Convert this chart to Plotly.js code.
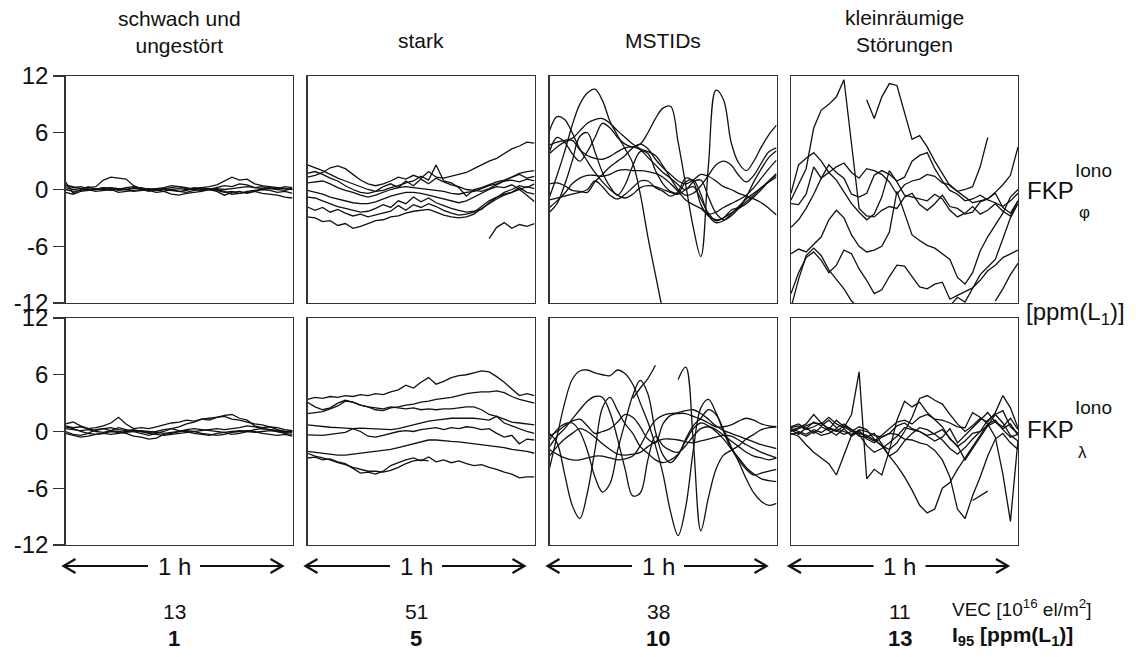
<!DOCTYPE html>
<html>
<head>
<meta charset="utf-8">
<script src="https://cdn.plot.ly/plotly-3.0.1.min.js"></script>
<style>html,body{margin:0;padding:0;background:#fff}#chart{width:1136px;height:657px}</style>
</head>
<body>
<div id="chart"></div>
<script>
// ---------------- DATA ----------------
const minutes = [0,2,4,6,8,10,12,14,16,18,20,22,24,26,28,30,32,34,36,38,40,42,44,46,48,50,52,54,56,58,60];
const columnTitles = ["schwach und<br>ungestört", "stark", "MSTIDs", "kleinräumige<br>Störungen"];
const vecValues = ["13", "51", "38", "11"];
const i95Values = ["1", "5", "10", "13"];
const yTickVals = [-12, -6, 0, 6, 12];
const yTickText = ["-12", "-6", "0", "6", "12"];

// schwach und ungestört, FKP phi
const weakPhi = [
  [0.5,0.3,0.1,0.2,0.3,1.0,1.3,1.2,1.1,0.4,0.1,0.0,-0.1,0.1,0.2,0.3,0.1,0.0,0.2,0.3,0.5,0.9,1.3,1.0,1.1,0.6,0.4,0.3,0.2,0.1,0.0],
  [0.8,-0.4,0.0,0.3,0.0,0.2,0.1,0.0,0.2,0.3,0.0,-0.2,0.1,0.2,0.4,0.3,0.2,0.0,-0.1,0.0,0.2,0.4,0.3,0.6,0.5,0.2,0.3,0.1,0.0,-0.1,0.1],
  [0.0,-0.2,-0.1,0.0,-0.2,-0.1,0.0,-0.3,-0.2,-0.1,0.0,0.1,0.0,-0.2,-0.5,-0.6,-0.4,-0.3,-0.2,0.0,-0.1,-0.3,-0.2,-0.4,-0.3,-0.2,-0.4,-0.5,-0.6,-0.8,-0.9],
  [-0.3,-0.5,-0.2,-0.1,0.0,0.1,0.2,0.1,0.0,0.1,0.2,0.0,0.1,0.0,-0.1,-0.2,-0.3,-0.1,0.0,0.1,0.0,-0.2,-0.5,-0.4,-0.2,-0.1,0.0,0.1,0.2,0.1,0.0],
  [0.2,0.0,0.1,-0.1,0.1,0.0,-0.1,0.1,0.0,-0.2,-0.1,0.0,-0.1,0.1,0.0,0.1,0.0,0.2,0.1,0.0,0.1,0.0,0.1,0.2,0.3,0.2,0.1,0.2,0.1,0.3,0.2],
  [0.4,0.2,0.3,0.1,0.0,0.2,0.1,-0.1,0.0,0.2,0.1,-0.1,-0.3,-0.2,0.0,-0.2,-0.1,0.1,0.2,0.0,-0.2,-0.6,-0.3,-0.2,-0.4,-0.2,0.0,-0.1,-0.3,-0.2,-0.4]
];
// schwach und ungestört, FKP lambda
const weakLambda = [
  [0.8,1.0,0.6,0.3,0.4,0.6,0.9,1.5,0.8,0.3,0.4,0.3,0.5,0.7,0.9,1.0,1.2,1.1,1.3,1.4,1.5,1.6,1.3,1.2,1.0,0.8,0.7,0.5,0.4,0.2,0.1],
  [0.5,0.3,0.0,-0.2,0.2,0.3,0.1,0.4,0.2,0.0,-0.2,-0.4,-0.2,0.0,0.3,0.5,0.8,1.0,1.3,1.2,1.5,1.7,1.8,1.4,1.2,0.6,0.4,0.5,0.2,0.0,-0.1],
  [0.0,-0.3,-0.4,-0.2,-0.3,-0.2,0.0,-0.1,-0.2,-0.5,-0.6,-0.8,-0.7,-0.3,-0.2,0.0,0.1,0.0,-0.2,-0.3,-0.4,-0.3,-0.1,0.0,0.1,0.0,-0.2,-0.3,-0.4,-0.3,-0.5],
  [-0.2,-0.4,-0.6,-0.5,-0.3,-0.2,-0.3,-0.2,0.0,0.1,0.0,-0.2,-0.3,-0.4,-0.3,-0.2,-0.1,0.0,0.1,0.2,0.3,0.2,0.3,0.4,0.6,0.5,0.3,0.2,0.1,0.0,0.1],
  [0.3,0.2,0.1,0.2,0.0,-0.1,0.1,0.0,-0.1,0.0,0.1,0.0,-0.1,-0.2,-0.1,0.0,0.2,0.3,0.2,0.1,0.0,-0.1,0.0,0.1,0.0,-0.1,0.0,0.1,0.0,-0.1,0.0],
  [0.6,0.4,0.5,0.3,0.1,0.3,0.4,0.2,0.1,0.2,0.0,-0.1,0.0,0.2,0.3,0.1,0.0,-0.2,-0.3,-0.4,-0.2,-0.1,-0.3,-0.2,0.0,0.2,0.3,0.2,0.0,-0.2,-0.3]
];
// stark, FKP phi
const strongPhi = [
  [1.3,1.5,1.8,2.3,2.5,2.2,1.6,1.0,0.6,0.4,0.6,0.9,1.3,1.1,1.5,1.2,1.9,1.3,1.2,1.4,1.6,1.8,2.2,2.6,3.0,3.3,3.8,4.3,4.6,5.0,4.9],
  [2.6,2.3,2.0,1.6,1.2,0.9,0.6,0.3,0.0,-0.2,-0.1,0.2,0.4,0.7,0.9,1.4,1.0,2.6,0.9,0.7,0.2,-0.7,0.0,0.2,0.5,0.8,1.0,1.3,1.7,1.9,2.0],
  [1.7,1.9,1.6,1.2,0.9,0.4,0.0,-0.3,-0.4,-0.2,0.3,0.6,0.2,0.9,0.4,1.1,0.6,1.2,0.8,0.5,0.3,0.0,-0.1,-0.2,0.1,0.5,0.9,1.3,1.6,1.2,1.4],
  [0.7,0.8,0.9,0.6,0.2,-0.1,-0.3,-0.6,-0.8,-0.6,-0.3,0.0,0.2,0.3,0.2,0.1,0.0,-0.1,-0.2,-0.4,-0.5,-0.3,-0.2,0.1,0.4,0.6,0.9,1.0,0.8,1.1,0.9],
  [-0.1,-0.3,-0.5,-0.8,-1.0,-1.2,-1.4,-1.5,-1.5,-1.3,-1.0,-0.7,-0.5,-0.3,-0.3,-0.4,-0.6,-0.8,-1.0,-1.2,-1.4,-1.2,-0.8,-0.4,0.0,0.3,0.2,0.5,0.0,-0.6,-1.3],
  [-0.8,-0.9,-1.2,-1.5,-1.8,-2.0,-2.2,-2.4,-2.3,-2.0,-1.6,-1.9,-1.2,-1.5,-0.8,-1.3,-0.9,-1.4,-1.7,-2.0,-2.2,-2.4,-2.3,-2.1,-1.4,-0.8,-0.3,0.0,0.4,0.2,0.6],
  [-1.85,-2.2,-1.9,-2.4,-2.1,-2.5,-2.8,-2.6,-2.9,-2.7,-2.5,-2.3,-1.7,-2.2,-1.6,-1.9,-1.5,-1.8,-2.2,-2.5,-2.7,-2.6,-2.4,-1.8,-1.2,-0.8,-0.5,-0.3,0.2,-0.3,-0.5],
  [-2.9,-3.0,-3.4,-3.3,-3.8,-3.6,-4.1,-3.9,-3.6,-3.3,-3.2,-2.9,-2.8,-2.5,-2.3,-2.2,-2.1,-2.4,-2.7,-2.9,-3.0,-2.9,-2.6,-2.0,-1.5,-1.0,-0.6,-0.3,0.0,0.3,0.1],
  [null,null,null,null,null,null,null,null,null,null,null,null,null,null,null,null,null,null,null,null,null,null,null,null,-5.2,-4.0,-3.5,-4.1,-3.7,-3.9,-3.6]
];
// stark, FKP lambda
const strongLambda = [
  [3.4,3.6,3.5,3.7,3.6,3.8,3.7,3.9,3.8,4.0,3.9,4.2,4.4,4.9,4.6,5.2,5.7,5.0,5.3,5.7,5.9,6.0,6.2,6.4,6.3,5.8,5.2,4.5,3.8,4.0,3.8],
  [3.1,2.6,2.3,2.5,3.0,3.3,3.1,2.8,2.6,2.3,2.2,2.5,2.6,2.8,2.9,3.1,3.2,3.4,3.5,3.6,3.8,4.0,4.1,4.2,4.2,4.3,4.1,3.7,3.4,3.2,3.0],
  [1.9,2.0,2.1,2.4,2.7,3.2,3.1,2.8,2.6,2.5,2.4,2.6,2.5,2.4,2.5,2.3,2.4,2.3,2.4,2.4,2.5,2.6,2.6,2.3,1.8,1.6,1.3,1.0,0.9,0.8,0.7],
  [0.7,0.6,0.5,0.45,0.4,0.35,0.3,0.35,0.3,0.25,0.2,0.2,0.3,0.5,0.7,0.9,1.1,1.2,1.3,1.4,1.4,1.4,1.4,1.3,1.2,1.6,0.9,0.6,0.3,0.0,-0.2],
  [-0.35,-0.35,-0.4,-0.3,-0.2,-0.1,0.3,0.0,-0.5,-0.6,-0.4,-0.2,0.0,0.1,0.0,0.2,0.3,0.4,0.2,0.4,0.3,0.5,0.4,0.2,0.3,-0.2,-0.6,-0.4,-1.3,-0.8,-0.9],
  [-2.1,-2.2,-2.3,-2.4,-2.5,-2.5,-2.4,-2.3,-2.2,-2.1,-2.0,-1.9,-1.7,-1.5,-1.3,-1.1,-0.9,-0.9,-1.0,-1.05,-1.1,-1.2,-1.3,-1.4,-1.5,-1.6,-1.7,-1.9,-2.0,-2.1,-2.3],
  [-2.8,-2.7,-3.0,-2.9,-3.2,-3.4,-3.9,-4.4,-4.3,-4.5,-4.2,-3.6,-3.3,-3.0,-2.8,-3.1,-2.7,-3.2,-3.0,-3.3,-3.1,-3.4,-3.6,-3.5,-3.8,-4.0,-4.3,-4.5,-4.9,-4.8,-4.8],
  [-2.3,-2.6,-2.8,-3.0,-3.3,-3.5,-3.8,-4.0,-4.2,-4.2,-4.3,-4.1,-3.8,-3.4,-3.1,-3.0,-3.1,null,null,null,null,null,null,null,null,null,null,null,null,null,null]
];
// MSTIDs, FKP phi
const mstidPhi = [
  [-0.8,1.5,4.0,6.8,9.0,10.2,10.6,9.4,7.2,5.7,4.3,2.8,-0.5,-5.0,-9.0,-13.0,null,null,null,null,null,null,null,null,null,null,null,null,null,null,null],
  [4.0,5.5,5.0,3.8,3.0,4.0,5.5,7.0,6.5,5.5,4.8,4.5,4.8,6.0,7.5,8.6,8.8,5.0,0.5,-4.0,-7.1,2.5,10.5,9.5,5.0,2.8,2.0,3.0,4.5,5.8,6.8],
  [6.2,7.7,7.4,6.0,4.3,3.0,1.8,0.8,0.0,-0.6,-0.9,-0.5,0.2,0.4,0.3,0.0,-0.3,-0.5,0.0,0.3,-1.0,-2.5,-3.3,-3.0,-2.5,-2.0,-1.5,-0.8,0.0,0.9,1.7],
  [4.7,5.0,5.2,5.4,6.2,7.0,7.4,7.5,7.0,6.2,5.5,4.8,4.3,4.0,3.6,2.5,1.2,0.0,-0.6,-0.4,0.4,1.5,2.6,3.0,2.6,1.5,0.8,1.5,2.8,4.0,4.4],
  [0.6,0.7,0.4,-0.1,-0.2,-0.3,0.8,1.6,2.4,3.0,3.6,4.4,4.8,4.3,3.2,2.3,1.6,0.9,0.6,1.0,1.6,1.4,0.9,0.3,0.0,-0.4,-0.7,-1.0,-1.4,-2.0,-2.7],
  [-2.4,-1.5,0.5,3.0,5.6,6.0,4.0,1.8,0.3,-0.6,0.5,2.5,4.0,3.8,2.0,0.6,-0.2,-0.4,0.8,1.0,-0.5,-2.7,-3.5,-3.3,-2.6,-1.8,-1.0,-0.4,0.2,0.8,1.3],
  [-1.9,-1.2,-0.4,0.6,1.2,1.5,1.5,1.4,1.6,2.0,2.1,2.0,2.0,1.9,1.7,1.3,0.6,-0.2,-1.1,-1.6,-2.0,-2.6,-2.4,-1.9,-1.5,-1.1,-0.6,0.2,1.2,2.2,3.1],
  [-1.1,-0.9,-0.7,-0.5,-0.3,0.0,0.9,0.3,-0.6,-1.0,-0.5,0.2,0.9,0.9,0.2,-0.2,-0.7,-0.2,1.2,0.8,-1.6,-2.8,-3.2,-3.0,-2.2,-1.9,-1.3,-0.6,0.2,0.9,1.5],
  [3.8,4.5,5.0,5.2,4.2,3.6,3.3,3.2,3.5,4.0,4.4,4.5,4.2,3.4,2.6,1.8,1.2,0.5,0.0,0.8,1.0,-0.8,-2.5,-3.2,-2.8,-2.0,-0.8,0.8,2.2,3.4,4.1]
];
// MSTIDs, FKP lambda
const mstidLambda = [
  [-3.9,-0.5,3.0,5.5,6.4,6.5,6.2,6.0,5.9,6.5,6.1,5.0,3.0,1.0,-1.5,-4.5,-8.5,-11.0,-8.0,-2.0,2.5,3.4,2.0,0.0,-1.8,-3.0,-4.0,-4.6,-4.4,-4.2,-4.0],
  [-0.2,-1.2,-4.5,-7.8,-9.2,-6.5,-2.0,2.5,3.6,2.2,0.8,-0.2,-1.6,-2.3,-3.0,-3.3,-3.0,-2.4,-1.0,0.3,0.9,0.6,0.0,-0.8,-1.8,-2.8,-3.8,-4.5,-5.0,-5.2,-5.3],
  [-0.9,0.2,0.8,0.9,0.0,-2.0,-4.8,-6.4,-5.5,-2.0,1.0,3.8,5.4,4.0,0.0,-2.5,-3.3,-2.5,-0.8,0.6,1.4,2.3,1.8,0.2,-1.6,-3.2,-5.0,-6.5,-7.4,-7.8,-7.6],
  [-1.6,-0.5,0.3,1.3,2.3,3.2,3.7,3.6,2.0,-0.8,-4.0,-6.8,-6.5,-3.0,-0.5,-1.5,-2.0,-2.2,-1.5,-0.5,0.3,0.5,0.2,-0.4,-1.0,-1.6,-2.2,-2.6,-2.8,-3.0,-2.8],
  [null,null,null,null,null,null,null,null,null,null,null,3.5,4.6,5.6,7.0,null,null,null,null,null,null,null,null,null,null,null,null,null,null,null,null],
  [null,null,null,null,null,null,null,null,null,null,null,null,null,null,null,null,null,5.5,6.8,-1.0,-10.5,-7.0,-4.0,-2.5,-2.0,-1.5,-0.8,-0.3,0.2,0.4,0.5],
  [-0.5,0.0,0.6,1.1,1.3,0.6,-0.2,0.0,0.3,1.0,1.8,1.5,0.5,-0.8,-1.2,0.8,1.7,1.9,1.9,1.6,1.3,0.9,0.5,0.5,0.7,1.1,1.4,1.2,0.8,0.6,0.5],
  [-1.9,-2.4,-2.8,-3.0,-3.0,-2.8,-2.6,-2.6,-2.8,-3.0,-2.9,-2.6,-1.5,0.0,1.2,1.7,1.9,2.0,2.2,2.3,1.9,1.3,0.6,0.1,-0.2,-0.5,-0.8,-1.1,-1.4,-1.6,-1.8],
  [-2.6,-1.6,-0.8,-0.2,0.3,0.0,-0.6,-1.3,-1.9,-2.4,-2.5,-2.4,-2.2,-1.6,-1.1,-0.8,-0.8,-0.9,-1.1,-1.2,-1.0,-0.8,-0.6,-0.4,-0.5,-0.9,-1.4,-1.8,-2.2,-2.5,-2.8]
];
// kleinräumige Störungen, FKP phi
const smallPhi = [
  [-1.1,0.5,2.2,6.5,8.4,9.0,9.8,11.6,5.0,-2.0,-2.8,-2.9,-2.2,-1.8,-2.0,-0.8,-0.4,-1.6,-2.2,-1.5,-0.6,-1.8,-2.0,-2.6,-2.4,-1.3,-1.0,-0.4,-1.9,-2.5,-1.2],
  [null,null,null,null,null,null,null,null,null,null,9.5,7.5,9.8,11.2,11.0,8.0,5.3,5.7,4.5,3.0,1.7,0.4,-0.2,-0.8,-1.4,-1.2,-1.0,-0.3,0.5,1.5,4.5],
  [-1.5,-1.6,-0.5,2.4,1.2,2.6,1.8,1.2,-0.5,-0.8,-0.4,1.5,2.0,1.6,0.9,1.3,3.0,3.6,3.9,2.2,0.9,-0.1,-0.5,-1.2,-1.0,-0.6,-1.1,-1.4,-1.8,-1.2,-0.4],
  [-4.0,-3.2,-2.0,-0.5,1.2,1.8,1.0,-0.3,-1.5,-2.4,-3.2,-2.6,-0.8,2.0,0.8,-0.6,-0.8,-1.0,-1.2,-0.5,-1.0,-2.2,-2.9,-2.5,-1.8,-2.6,-2.2,-1.5,-2.3,-2.8,-1.2],
  [-6.8,-6.3,-6.6,-5.8,-5.0,-3.2,-2.2,-3.0,-4.8,-6.0,-6.6,-6.4,-6.0,-4.5,-0.2,-2.5,-4.8,-5.4,-5.9,-6.2,-6.8,-7.4,-9.3,-10.0,-8.8,-6.5,-5.0,-3.8,-2.5,-0.8,0.0],
  [-11.0,-8.8,-7.2,-6.6,-7.5,-8.8,-8.0,-6.4,-6.8,-8.4,-9.6,-11.0,-10.6,-9.2,-8.0,-8.1,-9.2,-10.3,-10.5,-10.0,-9.8,-11.6,-11.2,-10.8,-10.4,-9.6,-8.6,-8.0,-7.2,-6.8,-6.4],
  [-12.5,-9.5,-7.0,-6.2,-7.0,-8.5,-9.5,-10.5,-11.8,-12.5,null,null,null,null,null,null,null,null,null,null,null,-12.3,-11.4,-11.9,-10.5,-9.0,-8.2,-7.4,-5.2,-3.0,-1.5],
  [-0.4,2.6,3.3,3.9,3.0,1.8,2.4,2.8,1.8,1.2,2.2,2.0,1.6,0.8,-0.5,0.5,0.9,1.1,1.6,1.4,0.7,0.5,-0.2,0.0,0.3,2.4,5.5,null,null,null,null],
  [null,null,null,null,null,null,null,null,null,null,null,null,null,null,null,null,null,null,null,null,null,null,null,null,null,null,null,-11.8,-10.5,-9.0,-7.8]
];
// kleinräumige Störungen, FKP lambda
const smallLambda = [
  [0.0,0.3,0.6,0.9,0.8,1.5,0.8,0.4,1.8,6.3,-5.0,-4.0,-4.6,-2.0,1.2,3.2,2.6,3.1,2.0,1.3,0.5,-0.8,-1.5,-3.0,-1.8,-0.6,0.5,1.8,2.2,0.5,-0.2],
  [0.2,-0.3,0.4,-0.2,0.5,0.1,-0.4,0.3,-0.5,0.0,-0.6,-0.2,-1.3,-2.6,-3.6,-4.8,-6.2,-7.8,-8.6,-8.2,-6.0,-5.4,-4.0,-2.8,-1.5,-0.4,0.8,1.2,0.2,-0.6,-0.3],
  [-0.2,-0.5,-1.4,-2.2,-2.8,-3.4,-4.6,-2.5,-0.4,0.2,0.0,-0.4,-0.6,-0.2,-0.3,-0.8,-0.9,-1.2,-1.4,-2.0,-3.0,-4.8,-8.2,-9.2,-6.8,-4.8,-2.6,-0.8,-0.2,-1.2,-1.9],
  [0.5,0.8,0.3,1.0,0.6,1.2,0.4,0.8,0.2,-0.5,-0.6,-1.0,-0.4,0.3,1.0,1.2,0.8,1.5,1.8,1.3,1.2,0.9,0.5,0.4,2.0,1.5,0.8,-0.6,-4.5,-9.5,-0.9],
  [0.3,0.0,-0.3,0.2,-0.1,0.4,0.1,-0.3,0.0,0.5,0.2,-0.8,-1.5,-1.9,-1.2,0.0,1.5,3.5,3.8,3.3,2.9,1.8,0.8,0.0,0.6,1.4,1.0,2.0,3.8,2.5,0.4],
  [0.1,0.4,0.8,1.8,0.9,0.2,1.2,0.5,0.0,-0.3,-1.5,-2.2,-1.8,-1.2,-0.5,0.4,0.2,0.0,-0.5,-1.0,-0.6,0.3,-1.2,-0.4,0.5,1.2,2.0,1.0,0.5,1.4,0.2],
  [-0.3,-0.1,-0.5,0.0,-0.4,-0.2,0.3,0.0,-0.3,0.1,-0.8,-1.2,-0.6,-0.2,0.6,0.9,0.3,0.0,-0.4,-0.2,0.2,-0.7,-1.6,-1.0,-0.2,0.0,1.2,1.8,0.9,-0.4,-1.0],
  [0.4,0.6,0.2,0.5,0.9,0.3,0.0,0.6,0.2,-0.2,-0.4,-0.9,-1.5,-2.6,-2.1,-1.0,-0.2,0.4,0.2,-0.3,-0.9,-1.8,-2.4,-1.7,-0.8,0.0,0.6,1.0,0.3,0.8,-0.4],
  [null,null,null,null,null,null,null,null,null,null,null,null,null,null,null,null,null,null,null,null,null,null,null,null,-7.3,-6.8,-6.3,null,null,null,null]
];

// ---------------- LAYOUT ----------------
const W = 1136, H = 657;
const FONT = "Liberation Sans, Arial, Helvetica, sans-serif";
const INK = "#111";
const colPx = [[65.5,292.5],[307.5,534.5],[549.5,776.5],[791,1018]];
const rowPx = [[76,303],[318,545]];
const px = x => x / W;
const py = y => 1 - y / H;

const panels = [weakPhi, strongPhi, mstidPhi, smallPhi, weakLambda, strongLambda, mstidLambda, smallLambda];
const traces = [];
const layout = {
  width: W, height: H,
  margin: {l:0, r:0, t:0, b:0},
  paper_bgcolor: "#fff", plot_bgcolor: "#fff",
  showlegend: false,
  font: {family: FONT, color: INK},
  annotations: [], shapes: []
};

panels.forEach((lines, k) => {
  const r = Math.floor(k / 4), c = k % 4, n = k + 1;
  const sfx = n === 1 ? "" : String(n);
  layout["xaxis" + sfx] = {
    domain: [px(colPx[c][0]), px(colPx[c][1])], range: [0, 60], anchor: "y" + sfx,
    showline: true, mirror: true, linecolor: "#333", linewidth: 1.3,
    showgrid: false, zeroline: false, showticklabels: false, ticks: "", fixedrange: true
  };
  layout["yaxis" + sfx] = {
    domain: [py(rowPx[r][1]), py(rowPx[r][0])], range: [-12, 12], anchor: "x" + sfx,
    showline: true, mirror: true, linecolor: "#333", linewidth: 1.3,
    showgrid: false, zeroline: false,
    tickmode: "array", tickvals: yTickVals, ticktext: yTickText,
    ticks: c === 0 ? "outside" : "", ticklen: 11, tickwidth: 1.3, tickcolor: "#333",
    showticklabels: c === 0, tickfont: {family: FONT, size: 24, color: INK}, fixedrange: true
  };
  lines.forEach(vals => {
    traces.push({
      x: minutes, y: vals, xaxis: "x" + sfx, yaxis: "y" + sfx,
      type: "scatter", mode: "lines", connectgaps: false, hoverinfo: "skip",
      line: {color: INK, width: 1.3, shape: c === 2 ? "spline" : "linear", smoothing: 1}
    });
  });
});

function ann(text, x, y, size, opts) {
  layout.annotations.push(Object.assign({
    text: text, x: px(x), y: py(y), xref: "paper", yref: "paper",
    showarrow: false, xanchor: "center", yanchor: "middle",
    font: {family: FONT, size: size, color: INK}
  }, opts || {}));
}

// column titles, arrows and per-column numbers
const titleY = [32, 40, 40, 31];
columnTitles.forEach((t, c) => {
  const mid = (colPx[c][0] + colPx[c][1]) / 2;
  ann(t, mid, titleY[c], 21);
  const cx = mid - 5;
  const L = colPx[c][0] - 2, R = colPx[c][1] - 10, ay = 566;
  ann("1 h", cx, ay, 24);
  ann(vecValues[c], cx, 611, 21);
  ann("<b>" + i95Values[c] + "</b>", cx, 638, 22);
  const seg = (x0, x1) => ({type: "line", xref: "paper", yref: "paper",
    x0: px(x0), x1: px(x1), y0: py(ay), y1: py(ay), line: {color: INK, width: 2.2}});
  layout.shapes.push(seg(L, cx - 26));
  layout.shapes.push(seg(cx + 26, R));
  layout.shapes.push({type: "path", xref: "paper", yref: "paper",
    path: `M ${px(L + 12)} ${py(ay - 7)} L ${px(L)} ${py(ay)} L ${px(L + 12)} ${py(ay + 7)}`,
    line: {color: INK, width: 2.2}});
  layout.shapes.push({type: "path", xref: "paper", yref: "paper",
    path: `M ${px(R - 12)} ${py(ay - 7)} L ${px(R)} ${py(ay)} L ${px(R - 12)} ${py(ay + 7)}`,
    line: {color: INK, width: 2.2}});
});

// right-hand labels
ann("FKP", 1025, 191, 24, {xanchor: "left"});
ann("Iono", 1073, 171, 19, {xanchor: "left"});
ann("φ", 1077, 212, 17, {xanchor: "left"});
ann("[ppm(L<sub>1</sub>)]", 1024, 313, 24, {xanchor: "left"});
ann("FKP", 1025, 429, 24, {xanchor: "left"});
ann("Iono", 1073, 407, 19, {xanchor: "left"});
ann("λ", 1076, 452, 17, {xanchor: "left"});

// bottom-right labels
ann("VEC [10<sup>16</sup> el/m<sup>2</sup>]", 950, 608, 19, {xanchor: "left"});
ann("<b>I<sub>95</sub> [ppm(L<sub>1</sub>)]</b>", 950, 636, 21, {xanchor: "left"});

Plotly.newPlot("chart", traces, layout, {staticPlot: true, displayModeBar: false});
</script>
</body>
</html>
